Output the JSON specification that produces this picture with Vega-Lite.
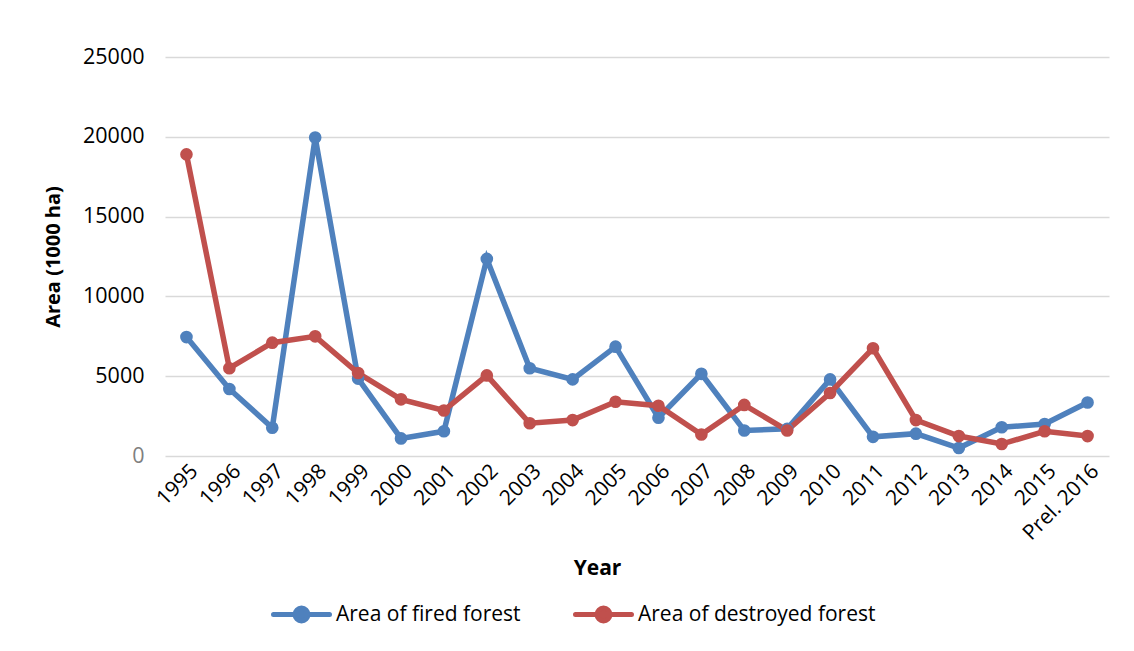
{
  "$schema": "https://vega.github.io/schema/vega-lite/v6.json",
  "autosize": "none",
  "width": 944,
  "height": 399,
  "padding": {"left": 165, "top": 57, "right": 25, "bottom": 195},
  "background": "white",
  "config": {
    "font": "Open Sans",
    "view": {"stroke": null},
    "axis": {"labelFont": "Open Sans", "titleFont": "Open Sans", "labelColor": "black", "titleColor": "black"}
  },
  "data": {
    "values": [
      {"year": "1995", "series": "Area of fired forest", "area": 7450},
      {"year": "1996", "series": "Area of fired forest", "area": 4200},
      {"year": "1997", "series": "Area of fired forest", "area": 1770},
      {"year": "1998", "series": "Area of fired forest", "area": 19950},
      {"year": "1999", "series": "Area of fired forest", "area": 4850},
      {"year": "2000", "series": "Area of fired forest", "area": 1100},
      {"year": "2001", "series": "Area of fired forest", "area": 1550},
      {"year": "2002", "series": "Area of fired forest", "area": 12350},
      {"year": "2003", "series": "Area of fired forest", "area": 5500},
      {"year": "2004", "series": "Area of fired forest", "area": 4800},
      {"year": "2005", "series": "Area of fired forest", "area": 6850},
      {"year": "2006", "series": "Area of fired forest", "area": 2400},
      {"year": "2007", "series": "Area of fired forest", "area": 5150},
      {"year": "2008", "series": "Area of fired forest", "area": 1600},
      {"year": "2009", "series": "Area of fired forest", "area": 1700},
      {"year": "2010", "series": "Area of fired forest", "area": 4800},
      {"year": "2011", "series": "Area of fired forest", "area": 1200},
      {"year": "2012", "series": "Area of fired forest", "area": 1400},
      {"year": "2013", "series": "Area of fired forest", "area": 500},
      {"year": "2014", "series": "Area of fired forest", "area": 1800},
      {"year": "2015", "series": "Area of fired forest", "area": 2000},
      {"year": "Prel. 2016", "series": "Area of fired forest", "area": 3350},
      {"year": "1995", "series": "Area of destroyed forest", "area": 18900},
      {"year": "1996", "series": "Area of destroyed forest", "area": 5500},
      {"year": "1997", "series": "Area of destroyed forest", "area": 7100},
      {"year": "1998", "series": "Area of destroyed forest", "area": 7500},
      {"year": "1999", "series": "Area of destroyed forest", "area": 5200},
      {"year": "2000", "series": "Area of destroyed forest", "area": 3550},
      {"year": "2001", "series": "Area of destroyed forest", "area": 2850},
      {"year": "2002", "series": "Area of destroyed forest", "area": 5050},
      {"year": "2003", "series": "Area of destroyed forest", "area": 2050},
      {"year": "2004", "series": "Area of destroyed forest", "area": 2250},
      {"year": "2005", "series": "Area of destroyed forest", "area": 3400},
      {"year": "2006", "series": "Area of destroyed forest", "area": 3150},
      {"year": "2007", "series": "Area of destroyed forest", "area": 1350},
      {"year": "2008", "series": "Area of destroyed forest", "area": 3200},
      {"year": "2009", "series": "Area of destroyed forest", "area": 1600},
      {"year": "2010", "series": "Area of destroyed forest", "area": 3950},
      {"year": "2011", "series": "Area of destroyed forest", "area": 6750},
      {"year": "2012", "series": "Area of destroyed forest", "area": 2250},
      {"year": "2013", "series": "Area of destroyed forest", "area": 1250},
      {"year": "2014", "series": "Area of destroyed forest", "area": 750},
      {"year": "2015", "series": "Area of destroyed forest", "area": 1550},
      {"year": "Prel. 2016", "series": "Area of destroyed forest", "area": 1250}
    ]
  },
  "encoding": {
    "x": {
      "field": "year",
      "type": "ordinal",
      "sort": null,
      "scale": {"type": "point", "padding": 0.5},
      "axis": {
        "title": "Year",
        "titleFontSize": 21,
        "titleFontWeight": "bold",
        "titleX": 432,
        "titleY": 118,
        "titleAnchor": null,
        "titleAlign": "center",
        "titleBaseline": "alphabetic",
        "labelAngle": -45,
        "labelFontSize": 21,
        "labelPadding": 4,
        "labelLimit": 0,
        "domain": false,
        "ticks": false,
        "grid": false
      }
    },
    "y": {
      "field": "area",
      "type": "quantitative",
      "scale": {"domain": [0, 25000]},
      "axis": {
        "title": "Area (1000 ha)",
        "titleFontSize": 20,
        "titleFontWeight": "bold",
        "titlePadding": 19,
        "values": [0, 5000, 10000, 15000, 20000, 25000],
        "format": "d",
        "labelFontSize": 21.5,
        "labelPadding": 21,
        "labelColor": {"condition": {"test": "datum.value === 0", "value": "#7f7f7f"}, "value": "black"},
        "domain": false,
        "ticks": false,
        "gridColor": "#d9d9d9",
        "gridWidth": 1.5
      }
    },
    "color": {
      "field": "series",
      "type": "nominal",
      "sort": null,
      "scale": {
        "domain": ["Area of fired forest", "Area of destroyed forest"],
        "range": ["#4f81bd", "#c0504d"]
      },
      "legend": {
        "title": null,
        "orient": "none",
        "direction": "horizontal",
        "legendX": 106,
        "legendY": 527,
        "padding": 0,
        "labelFontSize": 21,
        "labelColor": "black",
        "labelLimit": 0,
        "labelOffset": 4,
        "columnPadding": 44,
        "symbolType": "M-1,0H1M-0.23,0A0.23,0.23 0 1,1 0.23,0A0.23,0.23 0 1,1 -0.23,0Z",
        "symbolSize": 3136,
        "symbolStrokeWidth": 5,
        "encode": {
          "symbols": {
            "update": {
              "fill": {"scale": "color", "field": "value"},
              "stroke": {"scale": "color", "field": "value"},
              "strokeCap": {"value": "round"}
            }
          }
        }
      }
    }
  },
  "layer": [
    {"mark": {"type": "line", "strokeWidth": 5.5}},
    {"mark": {"type": "point", "filled": true, "size": 160, "opacity": 1}}
  ]
}
